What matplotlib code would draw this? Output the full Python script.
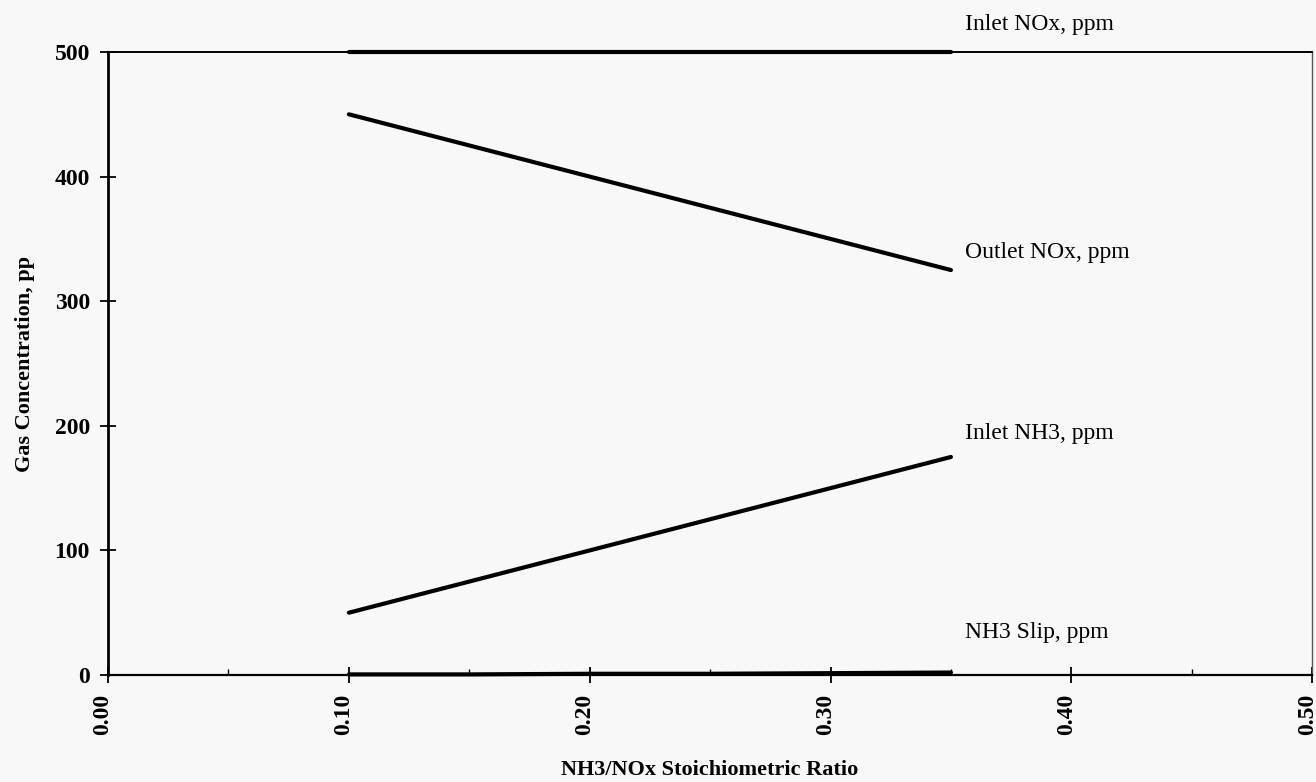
import matplotlib.pyplot as plt
import matplotlib.transforms as mtransforms
from matplotlib.ticker import MultipleLocator

plt.rcParams['font.family'] = ['Liberation Serif', 'DejaVu Serif']

# NH3/NOx stoichiometric ratio and gas concentrations (ppm)
ratio = [0.10, 0.15, 0.20, 0.25, 0.30, 0.35]
inlet_nox = [500, 500, 500, 500, 500, 500]
outlet_nox = [450, 425, 400, 375, 350, 325]
inlet_nh3 = [50, 75, 100, 125, 150, 175]
nh3_slip = [0.5, 0.5, 1, 1, 1.5, 2]

series_labels = ['Inlet NOx, ppm', 'Outlet NOx, ppm', 'Inlet NH3, ppm', 'NH3 Slip, ppm']
label_y = [522, 339, 194, 34]

bg = '#f8f8f8'
fig = plt.figure(figsize=(13.16, 7.82), dpi=100, facecolor=bg)
ax = fig.add_axes([0.0821, 0.1368, 0.915, 0.7967], facecolor=bg)

for vals in (inlet_nox, outlet_nox, inlet_nh3, nh3_slip):
    ax.plot(ratio, vals, color='black', lw=3, solid_capstyle='round', clip_on=False, zorder=3)

for txt, yy in zip(series_labels, label_y):
    ax.text(0.356, yy, txt, fontsize=17, va='center', ha='left')

ax.set_xlim(0, 0.5)
ax.set_ylim(0, 500)
ax.xaxis.set_major_locator(MultipleLocator(0.1))
ax.xaxis.set_minor_locator(MultipleLocator(0.05))
ax.yaxis.set_major_locator(MultipleLocator(100))
ax.set_xticklabels(['%.2f' % v for v in ax.get_xticks()])

ax.tick_params(axis='x', which='major', direction='inout', length=11, width=1.3,
               pad=8, labelsize=17, labelrotation=90)
ax.tick_params(axis='x', which='minor', direction='in', length=4.5, width=1)
ax.tick_params(axis='y', which='major', direction='inout', length=12, width=1.3,
               pad=7, labelsize=17)

# rotated labels sit a little left of their ticks
shift = mtransforms.ScaledTranslation(-5 / 100, 0, fig.dpi_scale_trans)
for lab in ax.get_xticklabels():
    lab.set_fontweight('bold')
    lab.set_transform(lab.get_transform() + shift)
for lab in ax.get_yticklabels():
    lab.set_fontweight('bold')

ax.spines['left'].set_linewidth(2)
ax.spines['bottom'].set_linewidth(1.6)
ax.spines['top'].set_linewidth(1.4)
ax.spines['right'].set_linewidth(1)
ax.spines['right'].set_linestyle((0, (1, 1)))
ax.spines['right'].set_color('#555555')

ax.set_xlabel('NH3/NOx Stoichiometric Ratio', fontsize=16, fontweight='bold', labelpad=18)
ax.set_ylabel('Gas Concentration, pp', fontsize=16, fontweight='bold', labelpad=14)

fig.savefig('out.png', dpi=100, facecolor=bg)
